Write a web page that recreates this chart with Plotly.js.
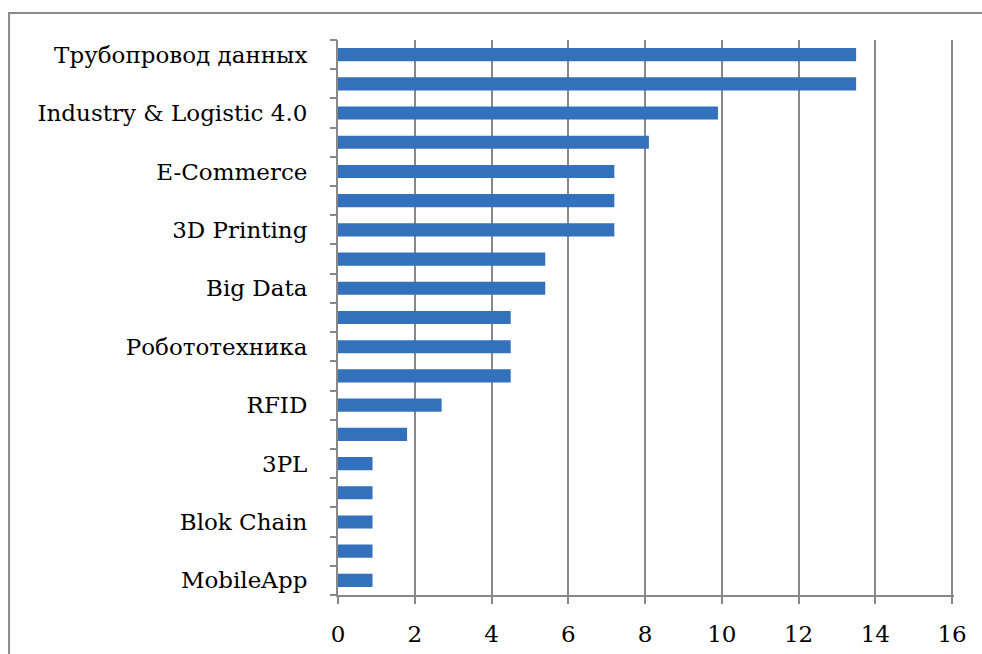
<!DOCTYPE html>
<html>
<head>
<meta charset="utf-8">
<script src="https://cdn.plot.ly/plotly-3.0.1.min.js"></script>
<style>html,body{margin:0;padding:0;background:#fff;}#chart{width:982px;height:654px;}</style>
</head>
<body>
<div id="chart"></div>
<script>
// Bars from top to bottom; unlabeled bars have an empty label
const labels = [
  "Трубопровод данных", "", "Industry & Logistic 4.0", "", "E-Commerce", "",
  "3D Printing", "", "Big Data", "", "Робототехника", "", "RFID", "",
  "3PL", "", "Blok Chain", "", "MobileApp"
];
const values = [13.5, 13.5, 9.9, 8.1, 7.2, 7.2, 7.2, 5.4, 5.4, 4.5, 4.5, 4.5, 2.7, 1.8, 0.9, 0.9, 0.9, 0.9, 0.9];
const xTicks = [0, 2, 4, 6, 8, 10, 12, 14, 16];

const idx = labels.map((_, i) => i);
const labelPos = idx.filter(i => labels[i] !== "");
const labelText = labelPos.map(i => labels[i]);
const boundaries = labels.map((_, i) => i - 0.5).concat([labels.length - 0.5]);
const yRange = [labels.length - 0.5, -0.5];

const font = {family: "DejaVu Serif, Liberation Serif, serif", size: 23, color: "#000"};

const trace = {
  type: "bar", orientation: "h",
  x: values, y: idx,
  marker: {color: "#3471BD", line: {width: 0}},
  hoverinfo: "x"
};
const tickTrace = {
  type: "scatter", mode: "markers", x: [0], y: [0], yaxis: "y2",
  marker: {opacity: 0}, hoverinfo: "skip", showlegend: false
};

const layout = {
  width: 982, height: 654,
  margin: {l: 338, r: 28, t: 40, b: 59},
  paper_bgcolor: "#fff", plot_bgcolor: "#fff",
  showlegend: false,
  bargap: 0.55,
  font: font,
  xaxis: {
    range: [0, 16.05], tickmode: "array", tickvals: xTicks, ticktext: xTicks.map(String),
    showgrid: true, gridcolor: "#888888", gridwidth: 2,
    showline: true, linecolor: "#888888", linewidth: 2,
    ticks: "outside", ticklen: 7, tickwidth: 2, tickcolor: "#888888",
    ticklabelstandoff: 10, zeroline: false, tickfont: font, fixedrange: true
  },
  yaxis: {
    range: yRange, tickmode: "array", tickvals: labelPos, ticktext: labelText,
    showgrid: false, zeroline: false, showline: true, linecolor: "#888888", linewidth: 2,
    ticks: "", ticklabelstandoff: 24, tickfont: font, fixedrange: true
  },
  yaxis2: {
    overlaying: "y", side: "left", range: yRange,
    tickmode: "array", tickvals: boundaries, showticklabels: false,
    ticks: "outside", ticklen: 7, tickwidth: 2, tickcolor: "#888888",
    showgrid: false, zeroline: false, showline: false, fixedrange: true
  },
  shapes: [{
    type: "rect", xref: "paper", yref: "paper",
    x0: -0.534, x1: 1.2, y0: -0.3, y1: 1.0486,
    line: {color: "#8a8a8a", width: 2}, fillcolor: "rgba(0,0,0,0)", layer: "below"
  }]
};

Plotly.newPlot("chart", [trace, tickTrace], layout, {displayModeBar: false, staticPlot: true});
</script>
</body>
</html>
